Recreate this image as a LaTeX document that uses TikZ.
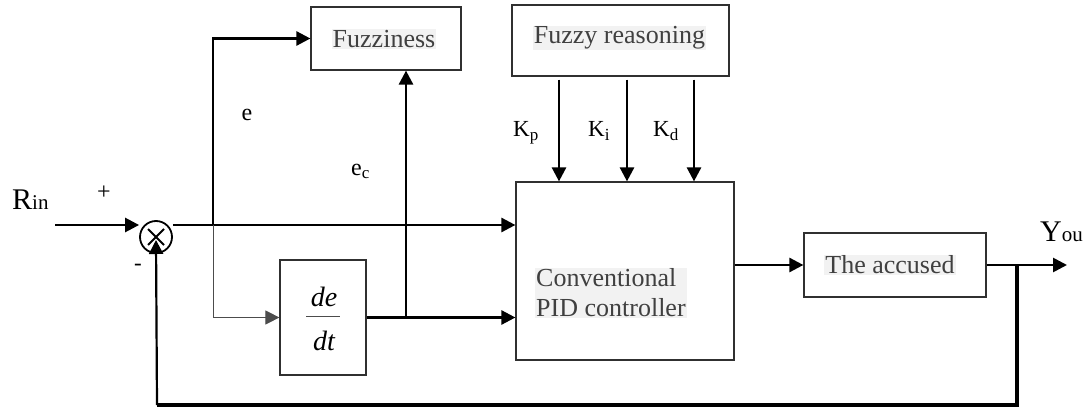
\documentclass[tikz,border=0pt]{standalone}
\usepackage{fontspec}
\setmainfont{Liberation Serif}
\usetikzlibrary{arrows.meta,calc}
\definecolor{txtgray}{HTML}{404040}
\definecolor{txtbg}{HTML}{F2F2F2}
\definecolor{boxline}{HTML}{303030}
\tikzset{
  blockbox/.style={draw=boxline, line width=1.2pt, rectangle, inner sep=0pt},
  blocktext/.style={fill=txtbg, text=txtgray, inner sep=1pt, font=\fontsize{26}{30}\selectfont},
  arr/.style={line width=2.6pt, -{Triangle[length=14pt,width=14pt]}},
  arrthin/.style={line width=1pt, draw=black!70, -{Triangle[length=14pt,width=14pt]}},
  fbline/.style={line width=4.5pt},
  lbl/.style={inner sep=0pt, font=\fontsize{23}{27}\selectfont},
}
\begin{document}
\begin{tikzpicture}[x=1pt,y=-1pt]
\useasboundingbox (0,0) rectangle (1083,411);

% blocks
\node[blockbox, minimum width=150pt, minimum height=63pt] (fuzz) at (386,38.5) {};
\node[blocktext] (fuzzt) at (384,39) {Fuzziness};
\node[blockbox, minimum width=217pt, minimum height=71pt] (freason) at (620.5,40.5) {};
\node[blocktext] (freasont) at (619.5,38) {Fuzzy reasoning};
\node[blockbox, minimum width=218pt, minimum height=178pt] (pid) at (625,271) {};
\node[blocktext, anchor=west, align=left] (pidt) at (535,293) {Conventional\\PID controller};
\node[blockbox, minimum width=86pt, minimum height=115pt] (dedt) at (323,317.5) {};
\node[inner sep=0pt, font=\fontsize{28}{32}\itshape] (de) at (324,297) {de};
\node[inner sep=0pt, font=\fontsize{28}{32}\itshape] (dt) at (324,341) {dt};
\draw[line width=1pt, draw=black!70] ([xshift=-17pt,yshift=1pt]dedt.center) -- ([xshift=17pt,yshift=1pt]dedt.center);
\node[blockbox, minimum width=182pt, minimum height=64pt] (plant) at (895,265) {};
\node[blocktext] (plantt) at (890,265) {The accused};

% summing junction
\node[draw, circle, line width=1.8pt, minimum size=32pt, inner sep=0pt] (sum) at (156,237) {};
\draw[line width=1.8pt] ([xshift=-8pt,yshift=8pt]sum.center) -- ([xshift=8pt,yshift=-8pt]sum.center);
\draw[line width=1.8pt] ([xshift=8pt,yshift=8pt]sum.center) -- ([xshift=-8pt,yshift=-8pt]sum.center);

% coordinates
\coordinate (rinstart) at (55,225);
\coordinate (eb) at (213,225);
\coordinate (ecb) at (406,317.5);
\coordinate (fb) at (1017,265);
\coordinate (fbc) at (157,405);
\coordinate (yout) at (1067,265);

% connectors
\draw[arr] (rinstart) -- (rinstart -| sum.west);
\draw[arr] (rinstart -| sum.east) -- (rinstart -| pid.west);
\draw[arr] (eb) |- (fuzz.west);
\draw[arrthin] (eb) |- (dedt.west);
\draw[arr] (dedt.east) -- (dedt.east -| pid.west);
\draw[arr] (ecb) -- (ecb |- fuzz.south);
\draw[arr] ([xshift=-61.5pt,yshift=-3pt]freason.south) -- ([xshift=-61.5pt]freason.south |- pid.north);
\draw[arr] ([xshift=6.5pt,yshift=-3pt]freason.south) -- ([xshift=6.5pt]freason.south |- pid.north);
\draw[arr] ([xshift=73.5pt,yshift=-3pt]freason.south) -- ([xshift=73.5pt]freason.south |- pid.north);
\draw[arr] (plant.west -| pid.east) -- (plant.west);
\draw[arr] (plant.east) -- (yout);
\draw[fbline] (fb) |- (fbc);
\draw[arr, line width=2.2pt] (fbc) -- ([yshift=-3pt]sum.center);

% labels
\node[inner sep=0pt, anchor=base west] (rin) at (12,210) {\fontsize{30}{34}\selectfont R\fontsize{21}{24}\selectfont in};
\node[inner sep=0pt, anchor=base west] (you) at (1040,242) {\fontsize{30}{34}\selectfont Y\fontsize{21}{24}\selectfont ou};
\node[lbl] (plus) at (104,193) {\fontsize{24}{28}\selectfont +};
\node[lbl] (minus) at (138,267) {-};
\node[lbl, font=\fontsize{24}{28}\selectfont] (elbl) at (247,115) {e};
\node[lbl, anchor=base west] (eclbl) at (351,176) {\fontsize{24}{28}\selectfont e\raisebox{-3pt}{\fontsize{17}{20}\selectfont c}};
\node[lbl, anchor=base west] (kp) at (513,137) {K\raisebox{-4pt}{\fontsize{17}{20}\selectfont p}};
\node[lbl, anchor=base west] (ki) at (588,137) {K\raisebox{-4pt}{\fontsize{17}{20}\selectfont i}};
\node[lbl, anchor=base west] (kd) at (653,137) {K\raisebox{-4pt}{\fontsize{17}{20}\selectfont d}};
\end{tikzpicture}
\end{document}
